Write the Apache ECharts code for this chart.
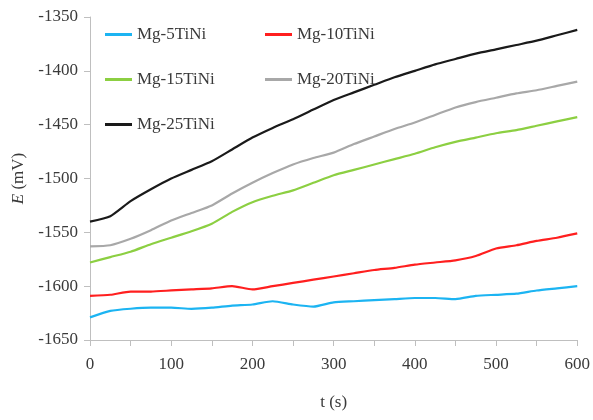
<!DOCTYPE html>
<html>
<head>
<meta charset="utf-8">
<script src="https://cdn.jsdelivr.net/npm/echarts@6/dist/echarts.min.js"></script>
<style>
  html, body { margin: 0; padding: 0; background: #fff; }
  #chart { width: 593px; height: 420px; }
</style>
</head>
<body>
<div id="chart"></div>
<script>
// time (s)
const time = [0, 25, 50, 75, 100, 125, 150, 175, 200, 225, 250, 275, 300,
              325, 350, 375, 400, 425, 450, 475, 500, 525, 550, 575, 600];

// potential E (mV)
const mg5 = [-1629, -1623, -1621, -1620, -1620, -1621, -1620, -1618, -1617, -1614, -1617, -1619, -1615,
             -1614, -1613, -1612, -1611, -1611, -1612, -1609, -1608, -1607, -1604, -1602, -1600];
const mg10 = [-1609, -1608, -1605, -1605, -1604, -1603, -1602, -1600, -1603, -1600, -1597, -1594, -1591,
              -1588, -1585, -1583, -1580, -1578, -1576, -1572, -1565, -1562, -1558, -1555, -1551];
const mg15 = [-1578, -1573, -1568, -1561, -1555, -1549, -1542, -1531, -1522, -1516, -1511, -1504, -1497,
              -1492, -1487, -1482, -1477, -1471, -1466, -1462, -1458, -1455, -1451, -1447, -1443];
const mg20 = [-1563, -1562, -1556, -1548, -1539, -1532, -1525, -1514, -1504, -1495, -1487, -1481, -1476,
              -1468, -1461, -1454, -1448, -1441, -1434, -1429, -1425, -1421, -1418, -1414, -1410];
const mg25 = [-1540, -1535, -1521, -1510, -1500, -1492, -1484, -1473, -1462, -1453, -1445, -1436, -1427,
              -1420, -1413, -1406, -1400, -1394, -1389, -1384, -1380, -1376, -1372, -1367, -1362];

const names = ['Mg-5TiNi', 'Mg-10TiNi', 'Mg-15TiNi', 'Mg-20TiNi', 'Mg-25TiNi'];
const colors = ['#1cb4f2', '#ff1f1f', '#8ccf42', '#a8a8a8', '#1a1a1a'];
const values = [mg5, mg10, mg15, mg20, mg25];

const font = 'Liberation Serif';
const textColor = '#3a3a3a';
const axisColor = '#bfbfbf';

const chart = echarts.init(document.getElementById('chart'));

const legendText = { fontFamily: font, fontSize: 17, color: textColor };

const option = {
    animation: false,
    backgroundColor: '#fff',
    grid: { left: 90, right: 15, top: 17, bottom: 80 },
    legend: [
        {
            orient: 'vertical', left: 105, top: 26, padding: 0, icon: 'rect',
            itemWidth: 27, itemHeight: 3, itemGap: 28,
            data: ['Mg-5TiNi', 'Mg-15TiNi', 'Mg-25TiNi'], textStyle: legendText
        },
        {
            orient: 'vertical', left: 265, top: 26, padding: 0, icon: 'rect',
            itemWidth: 27, itemHeight: 3, itemGap: 28,
            data: ['Mg-10TiNi', 'Mg-20TiNi'], textStyle: legendText
        }
    ],
    xAxis: {
        type: 'value',
        min: 0, max: 600, interval: 50,
        name: 't (s)',
        nameLocation: 'middle',
        nameGap: 54,
        nameTextStyle: { fontFamily: font, fontSize: 17, color: textColor },
        axisLine: { lineStyle: { color: axisColor, width: 1 } },
        axisTick: { show: true, length: 6, lineStyle: { color: axisColor } },
        axisLabel: {
            fontFamily: font, fontSize: 17, color: textColor, margin: 16,
            formatter: v => (v % 100 === 0 ? String(v) : '')
        },
        splitLine: { show: false }
    },
    yAxis: {
        type: 'value',
        min: -1650, max: -1350, interval: 50,
        name: '{i|E} (mV)',
        nameLocation: 'middle',
        nameGap: 60,
        nameTextStyle: {
            fontFamily: font, fontSize: 17, color: textColor,
            rich: { i: { fontFamily: font, fontSize: 17, fontStyle: 'italic', color: textColor } }
        },
        axisLine: { show: true, lineStyle: { color: axisColor, width: 1 } },
        axisTick: { show: true, length: 6, lineStyle: { color: axisColor } },
        axisLabel: {
            fontFamily: font, fontSize: 17, color: textColor, margin: 12,
            formatter: v => String(v)
        },
        splitLine: { show: false }
    },
    series: names.map((n, k) => ({
        name: n,
        type: 'line',
        symbol: 'none',
        smooth: 0.2,
        color: colors[k],
        lineStyle: { width: 2.2, color: colors[k] },
        data: time.map((t, i) => [t, values[k][i]])
    }))
};

chart.setOption(option);
</script>
</body>
</html>
